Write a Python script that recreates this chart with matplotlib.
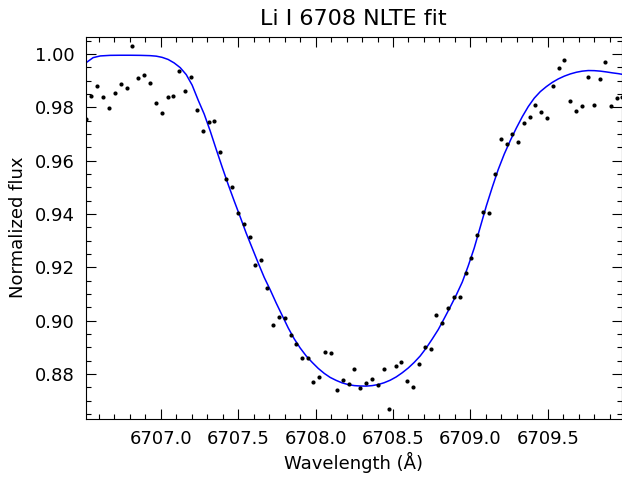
"""
Li I 6708 NLTE fit: observed spectrum (dots) with the synthetic NLTE profile (blue).
"""
import matplotlib
matplotlib.use("Agg")
import matplotlib.pyplot as plt
from matplotlib import rcParams
from matplotlib.ticker import MultipleLocator, FormatStrFormatter

rcParams.update({
    "font.family": "DejaVu Sans",
    "font.size": 13,
    "axes.linewidth": 0.8,
    "xtick.direction": "in", "ytick.direction": "in",
    "xtick.top": True, "ytick.right": True,
})

# observed normalized spectrum
obs_wave = [
    6706.514, 6706.551, 6706.590, 6706.627, 6706.664, 6706.703, 6706.741, 6706.778,
    6706.816, 6706.853, 6706.892, 6706.931, 6706.968, 6707.006, 6707.043, 6707.081,
    6707.120, 6707.157, 6707.194, 6707.233, 6707.269, 6707.308, 6707.345, 6707.383,
    6707.422, 6707.459, 6707.498, 6707.534, 6707.573, 6707.610, 6707.648, 6707.687,
    6707.724, 6707.763, 6707.799, 6707.838, 6707.875, 6707.911, 6707.948, 6707.986,
    6708.025, 6708.062, 6708.099, 6708.138, 6708.177, 6708.213, 6708.251, 6708.288,
    6708.327, 6708.364, 6708.403, 6708.439, 6708.476, 6708.517, 6708.553, 6708.590,
    6708.629, 6708.668, 6708.704, 6708.743, 6708.780, 6708.818, 6708.855, 6708.894,
    6708.930, 6708.969, 6709.006, 6709.045, 6709.081, 6709.120, 6709.157, 6709.200,
    6709.237, 6709.271, 6709.308, 6709.344, 6709.383, 6709.420, 6709.456, 6709.495,
    6709.534, 6709.570, 6709.607, 6709.646, 6709.685, 6709.721, 6709.758, 6709.796,
    6709.835, 6709.872, 6709.909, 6709.948, 6709.980,
]
obs_flux = [
    0.9757, 0.9843, 0.9879, 0.9840, 0.9799, 0.9853, 0.9889, 0.9873,
    1.0031, 0.9909, 0.9921, 0.9892, 0.9817, 0.9781, 0.9839, 0.9844,
    0.9935, 0.9861, 0.9915, 0.9790, 0.9710, 0.9746, 0.9748, 0.9631,
    0.9531, 0.9500, 0.9405, 0.9361, 0.9313, 0.9208, 0.9226, 0.9121,
    0.8985, 0.9013, 0.9009, 0.8947, 0.8914, 0.8858, 0.8858, 0.8771,
    0.8788, 0.8883, 0.8879, 0.8740, 0.8777, 0.8762, 0.8819, 0.8747,
    0.8765, 0.8781, 0.8759, 0.8820, 0.8670, 0.8831, 0.8846, 0.8774,
    0.8750, 0.8838, 0.8903, 0.8894, 0.9022, 0.8991, 0.9049, 0.9089,
    0.9089, 0.9179, 0.9236, 0.9321, 0.9406, 0.9404, 0.9549, 0.9681,
    0.9661, 0.9699, 0.9670, 0.9742, 0.9765, 0.9811, 0.9783, 0.9760,
    0.9880, 0.9948, 0.9978, 0.9824, 0.9786, 0.9805, 0.9913, 0.9810,
    0.9907, 0.9970, 0.9806, 0.9835, 0.9840,
]

# synthetic NLTE profile, sampled off the fit curve
fit_wave = [
    6706.517, 6706.562, 6706.608, 6706.672, 6706.737, 6706.802, 6706.866, 6706.931,
    6706.970, 6707.008, 6707.047, 6707.086, 6707.125, 6707.164, 6707.202, 6707.241,
    6707.280, 6707.319, 6707.357, 6707.396, 6707.435, 6707.474, 6707.513, 6707.551,
    6707.590, 6707.629, 6707.668, 6707.707, 6707.745, 6707.784, 6707.823, 6707.862,
    6707.900, 6707.939, 6707.978, 6708.017, 6708.056, 6708.094, 6708.133, 6708.172,
    6708.211, 6708.250, 6708.288, 6708.327, 6708.366, 6708.405, 6708.443, 6708.482,
    6708.521, 6708.560, 6708.599, 6708.637, 6708.676, 6708.715, 6708.754, 6708.793,
    6708.831, 6708.870, 6708.909, 6708.948, 6708.986, 6709.025, 6709.064, 6709.103,
    6709.142, 6709.180, 6709.219, 6709.258, 6709.297, 6709.336, 6709.374, 6709.413,
    6709.452, 6709.491, 6709.529, 6709.568, 6709.607, 6709.646, 6709.685, 6709.723,
    6709.762, 6709.801, 6709.840, 6709.879, 6709.917, 6709.956, 6709.982,
]
fit_flux = [
    0.99681, 0.99869, 0.99933, 0.99955, 0.99959, 0.99959, 0.99955, 0.99944,
    0.99925, 0.99880, 0.99801, 0.99670, 0.99494, 0.99231, 0.98838, 0.98275,
    0.97750, 0.97113, 0.96438, 0.95763, 0.95107, 0.94488, 0.93888, 0.93288,
    0.92726, 0.92163, 0.91620, 0.91151, 0.90664, 0.90195, 0.89726, 0.89314,
    0.88976, 0.88676, 0.88433, 0.88208, 0.88020, 0.87870, 0.87758, 0.87664,
    0.87600, 0.87563, 0.87548, 0.87544, 0.87563, 0.87604, 0.87671, 0.87765,
    0.87889, 0.88046, 0.88226, 0.88433, 0.88676, 0.88976, 0.89314, 0.89670,
    0.90082, 0.90514, 0.90964, 0.91451, 0.92051, 0.92726, 0.93513, 0.94301,
    0.95013, 0.95669, 0.96250, 0.96757, 0.97225, 0.97657, 0.98031, 0.98350,
    0.98594, 0.98781, 0.98939, 0.99070, 0.99175, 0.99258, 0.99321, 0.99363,
    0.99385, 0.99381, 0.99363, 0.99333, 0.99299, 0.99269, 0.99243,
]

XLIM = (6706.513, 6709.98)
YLIM = (0.8632, 1.0066)


def main():
    fig = plt.figure(figsize=(6.22, 4.78), dpi=100)
    ax = fig.add_axes([0.1375, 0.124, 0.8625, 0.7995])

    ax.plot(fit_wave, fit_flux, color="#0000ff", lw=1.1, zorder=2)
    ax.plot(obs_wave, obs_flux, "o", color="black", ms=3.0, mew=0, zorder=3)

    ax.set_xlim(*XLIM)
    ax.set_ylim(*YLIM)
    ax.xaxis.set_major_locator(MultipleLocator(0.5))
    ax.xaxis.set_minor_locator(MultipleLocator(0.1))
    ax.yaxis.set_major_locator(MultipleLocator(0.02))
    ax.yaxis.set_minor_locator(MultipleLocator(0.005))
    ax.xaxis.set_major_formatter(FormatStrFormatter("%.1f"))
    ax.yaxis.set_major_formatter(FormatStrFormatter("%.2f"))
    ax.tick_params(which="major", length=7, width=0.8, labelsize=13, pad=8)
    ax.tick_params(which="minor", length=3.5, width=0.8)

    ax.set_xlabel("Wavelength (Å)", fontsize=13, labelpad=3)
    ax.set_ylabel("Normalized flux", fontsize=13, labelpad=5)
    ax.set_title("Li I 6708 NLTE fit", fontsize=16, pad=8)

    fig.savefig("out.png", dpi=100)
    plt.close(fig)


if __name__ == "__main__":
    main()
